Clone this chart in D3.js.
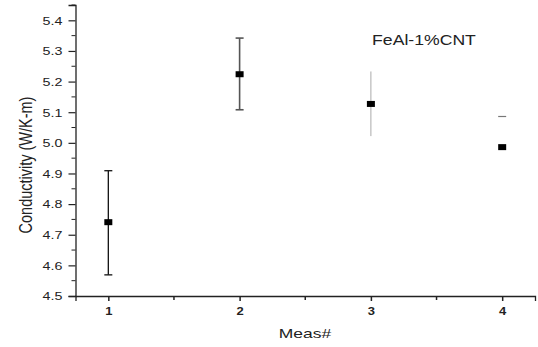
<!DOCTYPE html>
<html>
<head>
<meta charset="utf-8">
<script src="https://cdn.jsdelivr.net/npm/d3@7"></script>
<style>
  body { margin: 0; background: #fff; }
  text { font-family: "Liberation Sans", Arial, sans-serif; fill: #222; }
</style>
</head>
<body>
<svg id="chart" width="538" height="347"></svg>
<script>
// data
var meas = [1, 2, 3, 4];
var conductivity = [4.741, 5.224, 5.127, 4.986];
var errUpper = [4.909, 5.342, 5.233, 5.086];
var errLower = [4.569, 5.108, 5.022, null];
var yTicks = [4.5, 4.6, 4.7, 4.8, 4.9, 5.0, 5.1, 5.2, 5.3, 5.4];
var xTicks = [1, 2, 3, 4];
var label = "FeAl-1%CNT";

// per-point bar look (the picture has a different one for each)
var barColor = ["#111", "#555", "#aaa", "#777"];
var barWidth = [1.3, 1.6, 1, 1.2];
var barCaps = [true, true, false, true];

var svg = d3.select("#chart");
var x = d3.scaleLinear().domain([0.75, 4.25]).range([75.5, 535]);
var y = d3.scaleLinear().domain([4.5, 5.45]).range([296, 5]);
var sx = 1.3; // the source image is stretched sideways

// y axis
var yAxis = svg.append("g").attr("transform", "translate(" + x(0.75) + ",0)")
  .call(d3.axisLeft(y).tickValues(yTicks).tickFormat(d3.format(".1f")).tickSize(7).tickPadding(0));
yAxis.select(".domain").attr("stroke", "#222").attr("stroke-width", 1.3);
yAxis.selectAll(".tick line").attr("stroke", "#222").attr("stroke-width", 1.2);
yAxis.selectAll(".tick text")
  .attr("font-size", 11).attr("fill", "#333")
  .attr("x", -13 / sx).attr("dy", "0.35em")
  .attr("transform", "scale(" + sx + ",1)");
yAxis.append("g").selectAll("line")
  .data(d3.range(4.55, 5.46, 0.1))
  .enter().append("line")
  .attr("x1", -4).attr("x2", 0)
  .attr("y1", function (d) { return y(d); })
  .attr("y2", function (d) { return y(d); })
  .attr("stroke", "#222").attr("stroke-width", 1);

// x axis
var xAxis = svg.append("g").attr("transform", "translate(0," + y(4.5) + ")")
  .call(d3.axisBottom(x).tickValues(xTicks).tickFormat(d3.format("d")).tickSize(5).tickPadding(7));
xAxis.select(".domain").attr("stroke", "#222").attr("stroke-width", 1.3);
xAxis.selectAll(".tick line").attr("stroke", "#222").attr("stroke-width", 1.5);
xAxis.selectAll(".tick text")
  .attr("font-size", 10).attr("font-weight", "bold").attr("fill", "#333")
  .attr("transform", "scale(" + sx + ",1)");
xAxis.append("g").selectAll("line")
  .data([1.5, 2.5, 3.5])
  .enter().append("line")
  .attr("x1", function (d) { return x(d); })
  .attr("x2", function (d) { return x(d); })
  .attr("y1", 0).attr("y2", 4)
  .attr("stroke", "#222").attr("stroke-width", 1.5);

// axis titles
svg.append("text")
  .attr("transform", "translate(32,165) rotate(-90) scale(1," + sx + ")")
  .attr("text-anchor", "middle")
  .attr("font-size", 14.5)
  .text("Conductivity (W/K-m)");

svg.append("text")
  .attr("transform", "translate(305,338) scale(1.4,1)")
  .attr("text-anchor", "middle")
  .attr("font-size", 12.5)
  .text("Meas#");

// label
svg.append("text")
  .attr("transform", "translate(424,45) scale(1.26,1)")
  .attr("text-anchor", "middle")
  .attr("font-size", 14)
  .text(label);

// error bars
var pts = meas.map(function (m, i) {
  return { m: m, v: conductivity[i], hi: errUpper[i], lo: errLower[i], i: i };
});
var bars = svg.append("g");
pts.forEach(function (d) {
  var g = bars.append("g").attr("stroke", barColor[d.i]).attr("stroke-width", barWidth[d.i]);
  if (d.lo !== null) {
    g.append("line")
      .attr("x1", x(d.m)).attr("x2", x(d.m))
      .attr("y1", y(d.hi)).attr("y2", y(d.lo));
  }
  if (barCaps[d.i]) {
    [d.hi, d.lo].forEach(function (c) {
      if (c === null) return;
      g.append("line")
        .attr("x1", x(d.m) - 4).attr("x2", x(d.m) + 4)
        .attr("y1", y(c)).attr("y2", y(c));
    });
  }
});

// points
svg.append("g").selectAll("rect")
  .data(pts)
  .enter().append("rect")
  .attr("x", function (d) { return x(d.m) - 4; })
  .attr("y", function (d) { return y(d.v) - 3; })
  .attr("width", 8).attr("height", 6)
  .attr("fill", "#000");
</script>
</body>
</html>
